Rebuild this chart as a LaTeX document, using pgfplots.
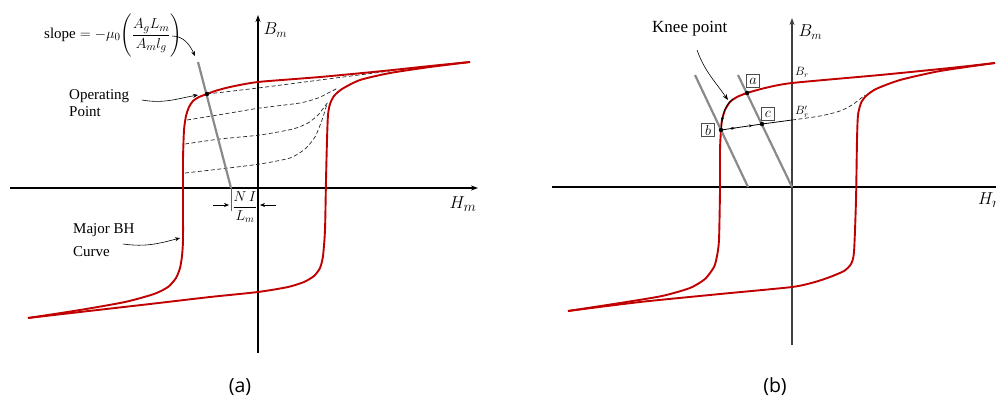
\documentclass[border=0pt]{standalone}
\usepackage{amsmath}
\usepackage{pgfplots}
\pgfplotsset{compat=1.18}
\usepackage{fontspec}
\setmainfont{Liberation Serif}
\newfontfamily\capfont{Open Sans}
\usetikzlibrary{arrows.meta,decorations.markings}

\definecolor{bhred}{HTML}{C00000}
\definecolor{loadgray}{HTML}{8A8A8A}

% Both panels are drawn in one common sheet frame: x to the right, y downward
\pgfplotsset{
  panel/.style={x=1pt, y=1pt, y dir=reverse, hide axis, clip=false,
    ymin=0, ymax=405, anchor=north west},
  bh/.style={bhred, line width=1.9pt, line join=round},
  load/.style={loadgray, line width=2.2pt},
  recoil/.style={black!85, line width=0.7pt, dash pattern=on 4pt off 2.5pt},
  ax/.style={black, line width=1.4pt, -{Stealth[length=7pt,width=5pt]}},
}

\begin{document}
\begin{tikzpicture}
\path[use as bounding box] (0,0) rectangle (996pt,405pt);

% ---------------- panel (a): operating point on the major loop ----------------
\begin{axis}[panel, xmin=0, xmax=498, at={(0pt,405pt)}]
  % axes
  \addplot[ax] coordinates {(10,188) (478,188)};
  \addplot[ax] coordinates {(258,353) (258,15)};
  % recoil lines
  \addplot[recoil, smooth, tension=0.4] coordinates {(207,94) (258,88) (320,80) (390,71)};
  \addplot[recoil, smooth, tension=0.4] coordinates {(187,120) (230,113) (260,108) (300,103) (318,98) (330,92) (338,88)};
  \addplot[recoil, smooth, tension=0.4] coordinates {(185,144) (220,139) (260,135) (293,129) (308,123) (318,115) (325,106) (328,102)};
  \addplot[recoil, smooth, tension=0.4] coordinates {(185,173) (220,169) (260,164) (290,158) (305,149) (315,137) (322,120) (327,104)};
  % major BH loop, descending branch
  \addplot[bh, smooth, tension=0.4] coordinates {
    (470,62) (430,66) (383,71) (320,77) (258,82) (230,87) (215,91) (207,94)
    (199,97) (193,101) (189,107) (186,116) (184,130) (183,160) (183,200)
    (183,240) (182,256) (180,268) (176,278) (168,287) (154,294) (125,302)
    (80,310) (28,318)};
  % major BH loop, ascending branch
  \addplot[bh, smooth, tension=0.4] coordinates {
    (28,318) (80,312) (150,304) (210,297) (258,292) (288,287) (304,282)
    (314,276) (320,268) (323,256) (325,230) (326,180) (327,140) (328,115)
    (330,104) (334,96) (342,89) (360,80) (390,73) (430,67) (470,62)};
  % load line
  \addplot[load] coordinates {(198,62) (231,188)};
  % operating point
  \addplot[only marks, mark=*, mark size=2pt, black] coordinates {(207,94)};
  % NI/Lm offset marker
  \addplot[loadgray!70!black, line width=0.6pt] coordinates {(231,188) (231,211)};
  \draw[-{Stealth[length=5pt,width=4pt]}, line width=0.6pt] (axis cs:213,205) -- (axis cs:229,205);
  \draw[-{Stealth[length=5pt,width=4pt]}, line width=0.6pt] (axis cs:276,205) -- (axis cs:260,205);
  \node[font=\fontsize{14}{15}\selectfont] at (axis cs:245,207) {$\dfrac{N\,I}{L_m}$};
  % axis labels
  \node[font=\fontsize{17}{18}\selectfont, anchor=west] at (axis cs:260,30) {$B_m$};
  \node[font=\fontsize{19}{20}\selectfont] at (axis cs:463,204) {$H_m$};
  % annotations
  \node[font=\fontsize{15}{17}\selectfont, anchor=west, inner sep=0pt] at (axis cs:44,35)
    {slope${}=-\mu_0\!\left(\dfrac{\rule{0pt}{2.4ex}A_g L_m}{A_m l_g\rule[-1.3ex]{0pt}{0pt}}\right)$};
  \draw[-{Stealth[length=5pt,width=4pt]}, line width=0.6pt] (axis cs:172,36) to[out=0, in=115] (axis cs:195,56);
  \node[font=\fontsize{15}{17.5}\selectfont, anchor=west, align=left, inner sep=0pt] at (axis cs:69,103) {Operating\\Point};
  \draw[-{Stealth[length=5pt,width=4pt]}, line width=0.6pt] (axis cs:142,100) to[out=-10, in=190] (axis cs:198,95);
  \node[font=\fontsize{15}{23}\selectfont, anchor=west, align=left, inner sep=0pt] at (axis cs:73,240) {Major BH\\Curve};
  \draw[-{Stealth[length=5pt,width=4pt]}, line width=0.6pt] (axis cs:123,244) to[out=-8, in=195] (axis cs:180,238);
  \node[font=\capfont\fontsize{19.5}{22}\selectfont] at (axis cs:240,387) {(a)};
\end{axis}

% ---------------- panel (b): knee point and recoil ----------------
\begin{axis}[panel, xmin=498, xmax=996, at={(498pt,405pt)}]
  % axes
  \addplot[black, line width=1.2pt] coordinates {(552,187) (996,187)};
  \addplot[ax, black!75, line width=1.2pt] coordinates {(792,345) (792,18)};
  % major BH loop, descending branch
  \addplot[bh, smooth, tension=0.4] coordinates {
    (995,63) (950,68) (880,75) (792,83) (765,88) (747,93) (737,97) (730,102)
    (725,110) (722,120) (721,130) (720,150) (720,190) (719,240) (717,256)
    (714,267) (705,279) (690,288) (662,296) (620,303) (568,311)};
  % major BH loop, ascending branch
  \addplot[bh, smooth, tension=0.4] coordinates {
    (568,311) (640,302) (720,294) (792,287) (815,282) (830,277) (844,271)
    (851,264) (854,252) (856,200) (857,140) (858,115) (861,103) (866,96)
    (876,89) (900,80) (940,71) (995,63)};
  % load lines
  \addplot[load] coordinates {(695,75) (748,187)};
  \addplot[load] coordinates {(738,75) (792,187)};
  % path along the knee from a down to b
  \addplot[black, line width=0.8pt, smooth,
    postaction={decorate}, decoration={markings, mark=at position 0.75 with {\arrow{Stealth[length=4pt,width=3pt]}}}]
    coordinates {(733,99) (728,104) (724,112) (722,121) (721,130)};
  % recoil line from b through c
  \addplot[black, line width=0.8pt,
    postaction={decorate}, decoration={markings,
      mark=at position 0.2 with {\arrow{Stealth[length=4pt,width=3pt]}},
      mark=at position 0.45 with {\arrow{Stealth[length=4pt,width=3pt]}}}]
    coordinates {(721,130) (762,124) (792,120)};
  \addplot[recoil, smooth, tension=0.5] coordinates {(792,120) (820,116) (840,111) (852,105) (860,99) (865,95)};
  % points a, b, c
  \addplot[only marks, mark=*, mark size=2pt, black] coordinates {(747,93) (721,130) (762,124)};
  \node[draw=black!70, line width=0.5pt, inner sep=1.5pt, minimum size=13pt, font=\fontsize{14}{15}\selectfont] at (axis cs:753,81) {$a$};
  \node[draw=black!70, line width=0.5pt, inner sep=1.5pt, minimum size=13pt, font=\fontsize{14}{15}\selectfont] at (axis cs:768,114) {$c$};
  \node[draw=black!70, line width=0.5pt, inner sep=1.5pt, minimum size=13pt, font=\fontsize{14}{15}\selectfont] at (axis cs:708,130) {$b$};
  % labels
  \node[font=\fontsize{12}{13}\selectfont, anchor=west, inner sep=1pt] at (axis cs:794,72) {$B_r$};
  \node[font=\fontsize{12}{13}\selectfont, anchor=west, inner sep=1pt] at (axis cs:794,112) {$B_r'$};
  \node[font=\fontsize{17}{18}\selectfont, anchor=west] at (axis cs:795,32) {$B_m$};
  \node[font=\fontsize{19}{20}\selectfont, anchor=west, inner sep=0pt] at (axis cs:978,200) {$H_m$};
  \node[font=\fontsize{17}{18}\selectfont, anchor=west, inner sep=0pt] at (axis cs:652,29) {Knee point};
  \draw[-{Stealth[length=6pt,width=4.5pt]}, line width=0.6pt] (axis cs:697,50) to[out=-70, in=125] (axis cs:728,100);
  \node[font=\capfont\fontsize{19.5}{22}\selectfont] at (axis cs:775,387) {(b)};
\end{axis}
\end{tikzpicture}
\end{document}
